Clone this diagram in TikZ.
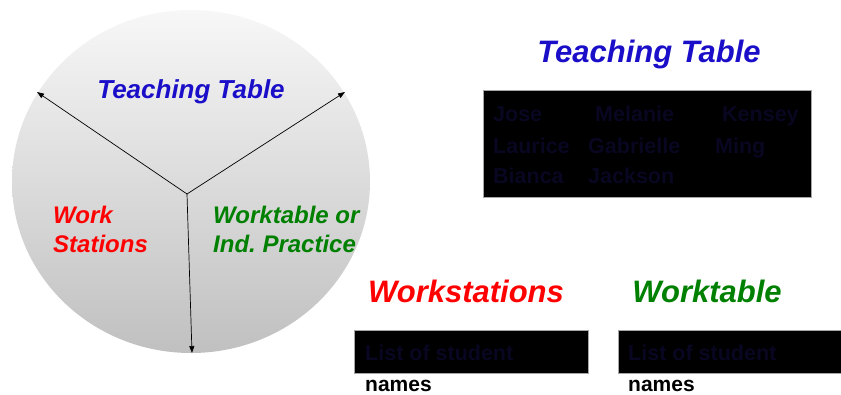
\documentclass[tikz,border=0pt]{standalone}
\usepackage{fontspec}
\setmainfont{Liberation Sans}
\usetikzlibrary{arrows.meta}
\frenchspacing
\definecolor{ttblue}{RGB}{26,14,200}
\definecolor{wsred}{RGB}{255,0,0}
\definecolor{wtgreen}{RGB}{0,128,0}
\definecolor{circtop}{RGB}{247,247,247}
\definecolor{circbot}{RGB}{192,192,192}
\definecolor{hidden}{RGB}{9,6,34}
\begin{document}
\begin{tikzpicture}[x=1pt,y=-1pt,
  heading/.style={font=\bfseries\itshape\fontsize{#1}{#1}\selectfont, inner sep=0pt},
  sector/.style={font=\bfseries\itshape\fontsize{24}{29}\selectfont, inner sep=0pt, align=left},
  listbox/.style={fill=black, draw=gray!70, line width=0.6pt},
  hiddentext/.style={font=\bfseries\fontsize{21.5}{21.5}\selectfont, text=hidden, inner sep=0pt, anchor=base west},
  plain/.style={font=\bfseries\fontsize{21}{21}\selectfont, text=black, inner sep=0pt, anchor=base west},
  spoke/.style={-{Triangle[length=7pt,width=5pt]}, line width=0.7pt}]
\useasboundingbox (0,0) rectangle (841,394);

% round table with three spokes
\shade[top color=circtop, bottom color=circbot] (191,181.5) ellipse [x radius=179, y radius=171.5];
\coordinate (hub) at (187,194);
\coordinate (tipL) at (37,92);
\coordinate (tipR) at (345,92);
\coordinate (tipB) at (192,353);
\draw[spoke] (hub) -- (tipL);
\draw[spoke] (hub) -- (tipR);
\draw[spoke] (hub) -- (tipB);

\node[heading=26, text=ttblue, anchor=base] (ttc) at (191,98) {Teaching Table};
\node[sector, text=wsred, anchor=base west] (wsc) at (53,252) {Work\\Stations};
\node[sector, text=wtgreen, anchor=base west] (wtc) at (213,252) {Worktable or\\Ind. Practice};

% teaching table group
\node[heading=31, text=ttblue, anchor=base] (tth) at (649,62) {Teaching Table};
\draw[listbox] (483,90) rectangle (811,197);
\node[hiddentext] (n1) at (493,121) {Jose};
\node[hiddentext] (n2) at (595,121) {Melanie};
\node[hiddentext] (n3) at (722,121) {Kensey};
\node[hiddentext] (n4) at (493,153) {Laurice};
\node[hiddentext] (n5) at (588,153) {Gabrielle};
\node[hiddentext] (n6) at (715,153) {Ming};
\node[hiddentext] (n7) at (493,183) {Bianca};
\node[hiddentext] (n8) at (588,183) {Jackson};

% workstations group
\node[heading=31, text=wsred, anchor=base] (wsh) at (466,302) {Workstations};
\draw[listbox] (354,330) rectangle (588,373);
\node[hiddentext] (wsl) at (365,360) {List of student};
\node[plain] (wsn) at (365,391) {names};

% worktable group
\node[heading=31, text=wtgreen, anchor=base] (wth) at (707,302) {Worktable};
\draw[listbox] (618,330) rectangle (842,373);
\node[hiddentext] (wtl) at (628,360) {List of student};
\node[plain] (wtn) at (628,391) {names};
\end{tikzpicture}
\end{document}
